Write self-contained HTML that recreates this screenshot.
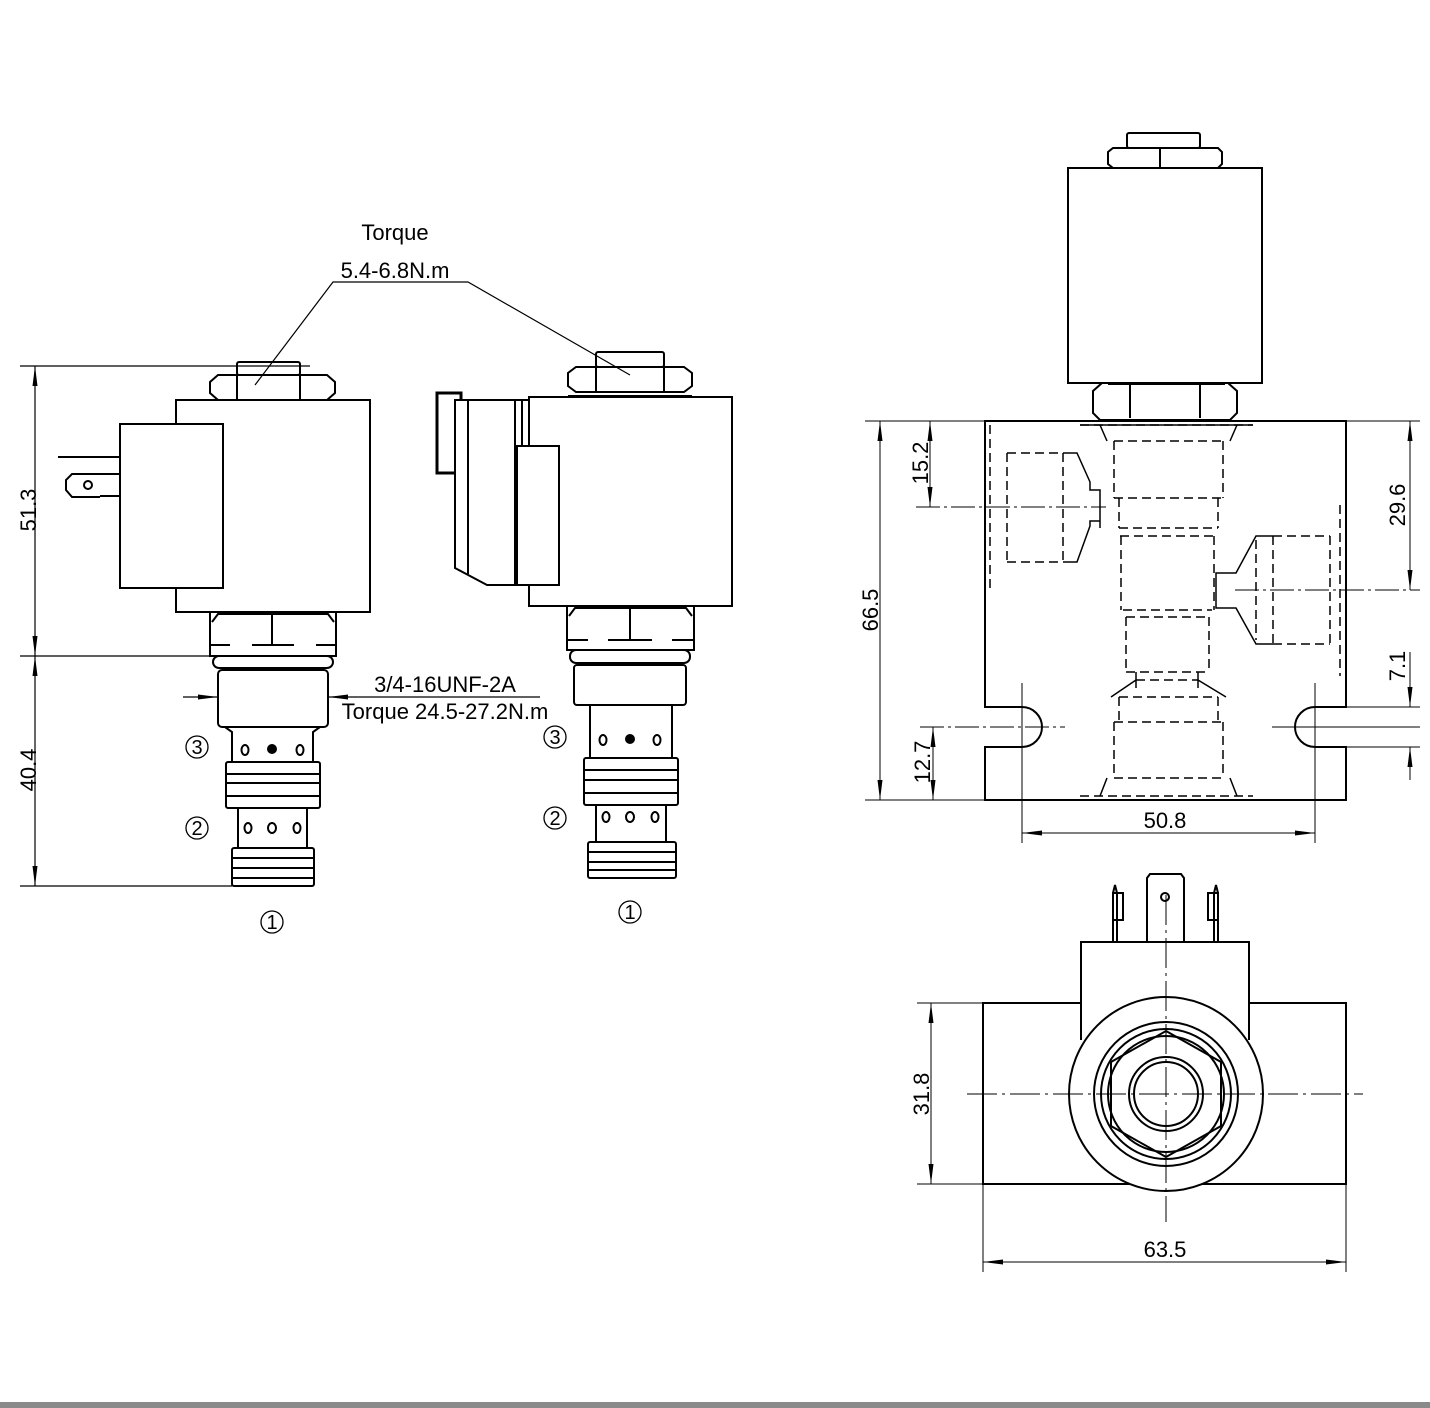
<!DOCTYPE html>
<html><head><meta charset="utf-8"><style>
html,body{margin:0;padding:0;background:#fff}
svg{display:block}
text{font-family:"Liberation Sans Narrow","Liberation Sans",sans-serif;fill:#000}
</style></head><body>
<svg width="1430" height="1408" viewBox="0 0 1430 1408" xmlns="http://www.w3.org/2000/svg">
<defs>
<marker id="a" viewBox="0 0 20 6" refX="20" refY="3" markerWidth="20" markerHeight="6" markerUnits="userSpaceOnUse" orient="auto-start-reverse"><path d="M0,0.5 L20,3 L0,5.5z" fill="#000"/></marker>
</defs>
<rect x="0" y="1402" width="1430" height="6" fill="#8a8a8a"/>
<g fill="none" stroke="#000" stroke-width="1.2">
<line x1="20" y1="366" x2="310" y2="366"/>
<line x1="20" y1="656" x2="330" y2="656"/>
<line x1="20" y1="886" x2="232" y2="886"/>
<line x1="35" y1="366" x2="35" y2="656" marker-start="url(#a)" marker-end="url(#a)"/>
<line x1="35" y1="656" x2="35" y2="886" marker-start="url(#a)" marker-end="url(#a)"/>
<polyline points="255,385 333,282 468,282 630,375"/>
<line x1="183" y1="697" x2="218" y2="697" marker-end="url(#a)"/>
<line x1="540" y1="697" x2="328" y2="697" marker-end="url(#a)"/>
</g>
<g fill="none" stroke="#000" stroke-width="2">
<rect x="237" y="362" width="63" height="13" rx="2"/>
<path d="M218,375 H327 L335,382 V393 L327,400 H218 L210,393 V382Z"/>
<line x1="237" y1="375" x2="237" y2="400"/><line x1="300" y1="375" x2="300" y2="400"/>
<rect x="176" y="400" width="194" height="212"/>
<rect x="120" y="424" width="103" height="164" fill="#fff"/>
<line x1="58" y1="457" x2="120" y2="457"/>
<path d="M100,474 H72 L66,480 V490 L72,497 H100"/>
<circle cx="88" cy="485" r="4"/>
<line x1="100" y1="474" x2="120" y2="474"/><line x1="100" y1="496" x2="120" y2="496"/>
<path d="M210,612 H336 V656 H210Z"/>
<path d="M212,622 L218,614 H328 L334,622"/>
<line x1="272" y1="614" x2="272" y2="645"/>
<path d="M210,645 H230 M252,645 H294 M316,645 H336"/>
<rect x="213" y="656" width="120" height="12" rx="6"/>
<rect x="218" y="670" width="110" height="57" rx="4"/>
<path d="M225,727 L232,732 V762 M320,727 L313,732 V762"/>
<ellipse cx="245" cy="750" rx="3.5" ry="5"/><ellipse cx="272" cy="749" rx="4" ry="4" fill="#000"/><ellipse cx="300" cy="750" rx="3.5" ry="5"/>
<rect x="226" y="762" width="94" height="46" rx="2"/>
<line x1="226" y1="774" x2="320" y2="774"/><line x1="226" y1="783" x2="320" y2="783"/><line x1="226" y1="796" x2="320" y2="796"/>
<path d="M238,808 V848 M307,808 V848"/>
<ellipse cx="248" cy="828" rx="3.5" ry="5"/><ellipse cx="272" cy="828" rx="4" ry="5"/><ellipse cx="297" cy="828" rx="3.5" ry="5"/>
<rect x="232" y="848" width="82" height="38" rx="2"/>
<line x1="232" y1="858" x2="314" y2="858"/><line x1="232" y1="868" x2="314" y2="868"/><line x1="232" y1="878" x2="314" y2="878"/>
<rect x="596" y="352" width="68" height="15" rx="2"/>
<path d="M576,367 H684 L692,373 V386 L684,392 H576 L568,386 V373Z"/>
<line x1="596" y1="367" x2="596" y2="392"/><line x1="664" y1="367" x2="664" y2="392"/>
<line x1="568" y1="396" x2="692" y2="396"/>
<rect x="529" y="397" width="203" height="209"/>
<rect x="437" y="393" width="24" height="80" stroke-width="3"/>
<path d="M455,400 H529 V585 H487 L455,568Z" fill="#fff"/>
<line x1="468" y1="400" x2="468" y2="574"/>
<line x1="515" y1="400" x2="515" y2="585"/><line x1="522" y1="400" x2="522" y2="585"/>
<rect x="517" y="446" width="42" height="139" fill="#fff"/>
<path d="M567,606 H694 V650 H567Z"/>
<path d="M569,616 L575,608 H686 L692,616"/>
<line x1="630" y1="608" x2="630" y2="640"/>
<path d="M567,640 H588 M608,640 H652 M672,640 H694"/>
<rect x="570" y="650" width="120" height="13" rx="6"/>
<rect x="574" y="665" width="112" height="40" rx="3"/>
<path d="M590,705 V758 M672,705 V758"/>
<ellipse cx="603" cy="740" rx="3.5" ry="5"/><ellipse cx="630" cy="739" rx="4" ry="4" fill="#000"/><ellipse cx="657" cy="740" rx="3.5" ry="5"/>
<rect x="584" y="758" width="94" height="47" rx="2"/>
<line x1="584" y1="770" x2="678" y2="770"/><line x1="584" y1="780" x2="678" y2="780"/><line x1="584" y1="793" x2="678" y2="793"/>
<path d="M596,805 V842 M666,805 V842"/>
<ellipse cx="606" cy="817" rx="3.5" ry="5"/><ellipse cx="630" cy="817" rx="4" ry="5"/><ellipse cx="655" cy="817" rx="3.5" ry="5"/>
<rect x="588" y="842" width="88" height="36" rx="2"/>
<line x1="588" y1="852" x2="676" y2="852"/><line x1="588" y1="862" x2="676" y2="862"/><line x1="588" y1="870" x2="676" y2="870"/>
<rect x="1127" y="133" width="73" height="15" rx="2"/>
<path d="M1113,148 H1218 L1222,152 V164 L1218,168 H1113 L1108,164 V152Z"/>
<line x1="1160" y1="148" x2="1160" y2="168"/>
<rect x="1068" y="168" width="194" height="215"/>
<path d="M1102,383 H1228 L1237,391 V413 L1230,420 H1100 L1093,413 V391Z"/>
<line x1="1130" y1="385" x2="1130" y2="418"/><line x1="1200" y1="385" x2="1200" y2="418"/>
<line x1="1108" y1="384" x2="1225" y2="384"/>
<path d="M985,421 H1346 V707 H1315 A20,20 0 0 0 1315,747 H1346 V800 H985 V747 H1022 A20,20 0 0 0 1022,707 H985Z"/>
<rect x="983" y="1003" width="363" height="181"/>
<rect x="1081" y="942" width="168" height="100" fill="#fff" stroke="none"/>
<path d="M1081,1040 V942 H1249 V1040"/>
<circle cx="1166" cy="1094" r="97" fill="#fff"/>
<circle cx="1166" cy="1094" r="72"/>
<circle cx="1166" cy="1094" r="65"/>
<polygon points="1166,1031 1221,1062 1221,1126 1166,1157 1111,1126 1111,1062"/>
<circle cx="1166" cy="1094" r="58"/>
<circle cx="1166" cy="1094" r="37"/>
<circle cx="1166" cy="1094" r="32"/>
<path d="M1147,942 V878 L1150,874 H1181 L1184,878 V942"/>
<circle cx="1165" cy="897" r="4"/>
<path d="M1113,942 V893 M1117,942 V893 M1112,893 H1123 V920 H1112 M1113,893 L1115,885 L1117,893"/>
<path d="M1218,942 V893 M1214,942 V893 M1219,893 H1208 V920 H1219 M1214,893 L1216,885 L1218,893"/>
</g>
<g fill="none" stroke="#000" stroke-width="1.5" stroke-dasharray="9,5">
<line x1="1080" y1="425" x2="1253" y2="425"/>
<line x1="1114" y1="441" x2="1223" y2="441"/>
<line x1="1114" y1="441" x2="1114" y2="498"/><line x1="1223" y1="441" x2="1223" y2="498"/>
<line x1="1114" y1="498" x2="1223" y2="498"/>
<line x1="1119" y1="498" x2="1119" y2="528"/><line x1="1218" y1="498" x2="1218" y2="528"/>
<line x1="1119" y1="528" x2="1218" y2="528"/>
<line x1="1120" y1="536" x2="1214" y2="536"/>
<line x1="1121" y1="536" x2="1121" y2="610"/><line x1="1214" y1="536" x2="1214" y2="610"/>
<line x1="1123" y1="610" x2="1212" y2="610"/>
<line x1="1126" y1="617" x2="1209" y2="617"/>
<line x1="1126" y1="617" x2="1126" y2="672"/><line x1="1209" y1="617" x2="1209" y2="672"/>
<line x1="1126" y1="672" x2="1209" y2="672"/>
<line x1="1136" y1="680" x2="1198" y2="680"/>
<line x1="1119" y1="697" x2="1218" y2="697"/>
<line x1="1119" y1="697" x2="1119" y2="722"/><line x1="1218" y1="697" x2="1218" y2="722"/>
<line x1="1114" y1="722" x2="1223" y2="722"/>
<line x1="1114" y1="722" x2="1114" y2="778"/><line x1="1223" y1="722" x2="1223" y2="778"/>
<line x1="1114" y1="778" x2="1223" y2="778"/>
<line x1="1080" y1="796" x2="1253" y2="796"/>
<line x1="1007" y1="453" x2="1063" y2="453"/><line x1="1007" y1="562" x2="1063" y2="562"/>
<line x1="1007" y1="453" x2="1007" y2="562"/><line x1="1063" y1="453" x2="1063" y2="562"/>
<line x1="990" y1="425" x2="990" y2="592"/>
<line x1="1273" y1="536" x2="1330" y2="536"/><line x1="1273" y1="644" x2="1330" y2="644"/>
<line x1="1273" y1="536" x2="1273" y2="644"/><line x1="1330" y1="536" x2="1330" y2="644"/>
<line x1="1256" y1="540" x2="1256" y2="640"/>
<line x1="1340" y1="505" x2="1340" y2="676"/>
</g>
<g fill="none" stroke="#000" stroke-width="1.5">
<path d="M1080,425 H1253 M1100,425 L1107,441 M1237,425 L1230,441"/>
<path d="M1063,453 H1077 L1090,482 V490 H1100 V528 M1063,562 H1077 L1090,526 V521 H1100"/>
<path d="M1273,536 H1256 L1236,573 H1216 V608 H1236 L1256,644 H1273"/>
<path d="M1111,697 L1136,680 M1226,697 L1198,680 M1136,672 V688 M1198,672 V688"/>
<path d="M1107,778 L1100,796 M1230,778 L1237,796"/>
</g>
<g fill="none" stroke="#000" stroke-width="1">
<line x1="916" y1="507" x2="1106" y2="507" stroke-dasharray="24,4,3,4"/>
<line x1="1235" y1="590" x2="1420" y2="590" stroke-dasharray="24,4,3,4"/>
<line x1="920" y1="727" x2="1065" y2="727" stroke-dasharray="24,4,3,4"/>
<line x1="1272" y1="727" x2="1420" y2="727"/>
<line x1="1022" y1="683" x2="1022" y2="843"/><line x1="1315" y1="683" x2="1315" y2="843"/>
<line x1="967" y1="1094" x2="1363" y2="1094" stroke-dasharray="30,5,3,5"/>
<line x1="1166" y1="895" x2="1166" y2="1222" stroke-dasharray="30,5,3,5"/>
<line x1="865" y1="421" x2="985" y2="421"/><line x1="865" y1="800" x2="985" y2="800"/>
<line x1="880" y1="421" x2="880" y2="800" marker-start="url(#a)" marker-end="url(#a)"/>
<line x1="930" y1="421" x2="930" y2="507" marker-start="url(#a)" marker-end="url(#a)"/>
<line x1="933" y1="727" x2="933" y2="800" marker-start="url(#a)" marker-end="url(#a)"/>
<line x1="1346" y1="421" x2="1420" y2="421"/><line x1="1346" y1="707" x2="1420" y2="707"/><line x1="1346" y1="747" x2="1420" y2="747"/>
<line x1="1410" y1="421" x2="1410" y2="590" marker-start="url(#a)" marker-end="url(#a)"/>
<line x1="1410" y1="652" x2="1410" y2="707" marker-end="url(#a)"/>
<line x1="1410" y1="780" x2="1410" y2="747" marker-end="url(#a)"/>
<line x1="1022" y1="833" x2="1315" y2="833" marker-start="url(#a)" marker-end="url(#a)"/>
<line x1="917" y1="1003" x2="983" y2="1003"/><line x1="917" y1="1184" x2="983" y2="1184"/>
<line x1="931" y1="1003" x2="931" y2="1184" marker-start="url(#a)" marker-end="url(#a)"/>
<line x1="983" y1="1184" x2="983" y2="1272"/><line x1="1346" y1="1184" x2="1346" y2="1272"/>
<line x1="983" y1="1262" x2="1346" y2="1262" marker-start="url(#a)" marker-end="url(#a)"/>
</g>
<g font-size="22">
<text x="395" y="240" text-anchor="middle">Torque</text>
<text x="395" y="278" text-anchor="middle">5.4-6.8N.m</text>
<text x="445" y="692" text-anchor="middle">3/4-16UNF-2A</text>
<text x="445" y="719" text-anchor="middle">Torque 24.5-27.2N.m</text>
<text transform="translate(36,510) rotate(-90)" text-anchor="middle">51.3</text>
<text transform="translate(36,770) rotate(-90)" text-anchor="middle">40.4</text>
<text transform="translate(878,610) rotate(-90)" text-anchor="middle">66.5</text>
<text transform="translate(928,463) rotate(-90)" text-anchor="middle">15.2</text>
<text transform="translate(930,762) rotate(-90)" text-anchor="middle">12.7</text>
<text transform="translate(1405,505) rotate(-90)" text-anchor="middle">29.6</text>
<text transform="translate(1405,666) rotate(-90)" text-anchor="middle">7.1</text>
<text transform="translate(929,1094) rotate(-90)" text-anchor="middle">31.8</text>
<text x="1165" y="828" text-anchor="middle">50.8</text>
<text x="1165" y="1257" text-anchor="middle">63.5</text>
</g>
<g font-size="20" text-anchor="middle">
<circle cx="197" cy="747" r="11" fill="none" stroke="#000" stroke-width="1.3"/><text x="197" y="754">3</text>
<circle cx="197" cy="828" r="11" fill="none" stroke="#000" stroke-width="1.3"/><text x="197" y="835">2</text>
<circle cx="272" cy="922" r="11" fill="none" stroke="#000" stroke-width="1.3"/><text x="272" y="929">1</text>
<circle cx="555" cy="737" r="11" fill="none" stroke="#000" stroke-width="1.3"/><text x="555" y="744">3</text>
<circle cx="555" cy="818" r="11" fill="none" stroke="#000" stroke-width="1.3"/><text x="555" y="825">2</text>
<circle cx="630" cy="912" r="11" fill="none" stroke="#000" stroke-width="1.3"/><text x="630" y="919">1</text>
</g>
</svg>
</body></html>
